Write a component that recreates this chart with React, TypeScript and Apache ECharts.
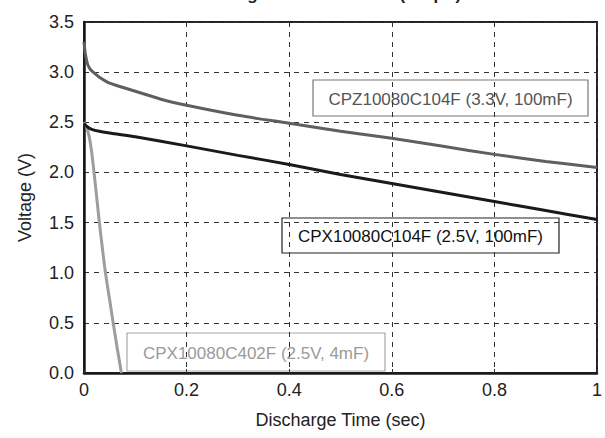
import React, { useEffect, useRef } from "react";
import * as echarts from "echarts";

const xTicks = [0, 0.2, 0.4, 0.6, 0.8, 1];
const yTicks = [0, 0.5, 1.0, 1.5, 2.0, 2.5, 3.0, 3.5];

const cpzTime = [0, 0.003, 0.007, 0.012, 0.018, 0.03, 0.05, 0.1, 0.15, 0.2, 0.3, 0.4, 0.5, 0.6, 0.7, 0.8, 0.9, 1.0];
const cpzVolt = [3.3, 3.17, 3.08, 3.03, 3.0, 2.95, 2.89, 2.81, 2.73, 2.67, 2.57, 2.49, 2.41, 2.34, 2.26, 2.18, 2.11, 2.05];

const cpx104Time = [0, 0.005, 0.015, 0.03, 0.06, 0.1, 0.2, 0.3, 0.4, 0.5, 0.6, 0.7, 0.8, 0.9, 1.0];
const cpx104Volt = [2.49, 2.46, 2.43, 2.41, 2.385, 2.355, 2.265, 2.17, 2.08, 1.98, 1.89, 1.8, 1.71, 1.62, 1.53];

const cpx402Time = [0, 0.005, 0.01, 0.015, 0.02, 0.025, 0.03, 0.035, 0.04, 0.045, 0.05, 0.055, 0.06, 0.065, 0.07, 0.073];
const cpx402Volt = [2.5, 2.45, 2.36, 2.2, 1.98, 1.74, 1.5, 1.28, 1.07, 0.89, 0.73, 0.56, 0.4, 0.24, 0.09, 0.0];

const seriesNames = [
  "CPZ10080C104F (3.3V, 100mF)",
  "CPX10080C104F (2.5V, 100mF)",
  "CPX10080C402F (2.5V, 4mF)",
];
const seriesColors = ["#5f5f5f", "#1a1a1a", "#9d9d9d"];

const FONT = "Liberation Sans, Arial, sans-serif";

function zip(a: number[], b: number[]) {
  return a.map((v, i) => [v, b[i]]);
}

function labelBox(text: string, x: number, y: number, w: number, h: number, color: string, border: string) {
  return {
    type: "group",
    x,
    y,
    children: [
      { type: "rect", shape: { x: 0, y: 0, width: w, height: h }, style: { fill: "#fff", stroke: border, lineWidth: 1.2 } },
      {
        type: "text",
        x: w / 2,
        y: h / 2 + 1,
        style: { text, fill: color, font: `17px ${FONT}`, align: "center", verticalAlign: "middle" },
      },
    ],
  };
}

export default function App() {
  const ref = useRef<HTMLDivElement>(null);
  useEffect(() => {
    if (!ref.current) return;
    const chart = echarts.init(ref.current, undefined, { renderer: "svg" });
    const data = [zip(cpzTime, cpzVolt), zip(cpx104Time, cpx104Volt), zip(cpx402Time, cpx402Volt)];
    chart.setOption({
      animation: false,
      backgroundColor: "#fff",
      title: {
        text: "Discharge Characteristics (100µA)",
        left: 180,
        top: -19,
        textStyle: { fontFamily: FONT, fontSize: 17, fontWeight: "bold", color: "#222" },
      },
      grid: {
        left: 84,
        right: 7,
        top: 22,
        bottom: 65,
        show: true,
        borderColor: "#222",
        borderWidth: 2,
      },
      xAxis: {
        type: "value",
        min: 0,
        max: 1,
        interval: 0.2,
        name: "Discharge Time (sec)",
        nameLocation: "middle",
        nameGap: 38,
        nameTextStyle: { fontFamily: FONT, fontSize: 18, color: "#222" },
        axisLine: { show: true, lineStyle: { color: "#1a1a1a", width: 2.5 } },
        axisTick: { show: true, inside: true, length: 4, lineStyle: { color: "#333" } },
        axisLabel: {
          fontFamily: FONT,
          fontSize: 18,
          color: "#222",
          margin: 8,
          formatter: (v: number) => (v === 0 || v === 1 ? String(v) : v.toFixed(1)),
        },
        splitLine: { show: true, lineStyle: { color: "#333", type: [5, 5], width: 1 } },
      },
      yAxis: {
        type: "value",
        min: 0,
        max: 3.5,
        interval: 0.5,
        name: "Voltage (V)",
        nameLocation: "middle",
        nameGap: 50,
        nameTextStyle: { fontFamily: FONT, fontSize: 18, color: "#222" },
        axisLine: { show: true, lineStyle: { color: "#1a1a1a", width: 2.5 } },
        axisTick: { show: false },
        axisLabel: {
          fontFamily: FONT,
          fontSize: 18,
          color: "#222",
          margin: 10,
          formatter: (v: number) => v.toFixed(1),
        },
        splitLine: { show: true, lineStyle: { color: "#333", type: [5, 5], width: 1 } },
      },
      series: data.map((d, i) => ({
        name: seriesNames[i],
        type: "line",
        data: d,
        showSymbol: false,
        smooth: 0.3,
        lineStyle: { color: seriesColors[i], width: 3 },
        itemStyle: { color: seriesColors[i] },
        z: 3 - i,
      })),
      graphic: [
        labelBox(seriesNames[0], 313, 80, 275, 36, "#555", "#777"),
        labelBox(seriesNames[1], 282, 218, 277, 35, "#111", "#222"),
        labelBox(seriesNames[2], 127, 333, 258, 38, "#9a9a9a", "#a8a8a8"),
      ],
    });
    return () => chart.dispose();
  }, []);
  return <div ref={ref} style={{ position: "absolute", left: 0, top: 0, width: 605, height: 438 }} />;
}
